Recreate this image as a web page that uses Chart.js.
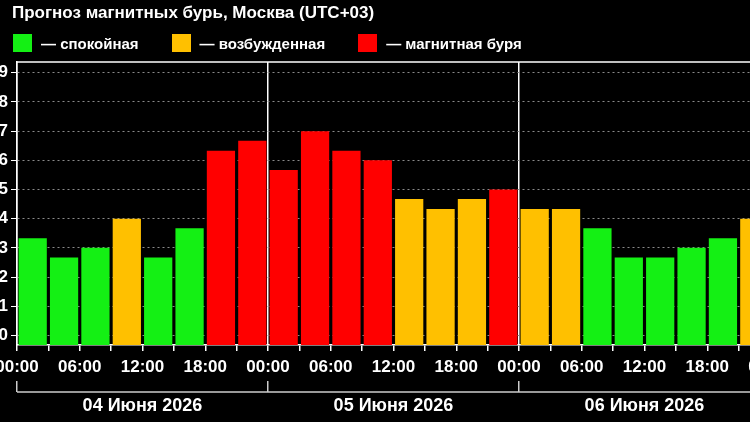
<!DOCTYPE html>
<html>
<head>
<meta charset="utf-8">
<script src="https://cdn.jsdelivr.net/npm/chart.js@4"></script>
<style>
  html, body { margin: 0; padding: 0; background: #000; overflow: hidden; }
  #wrap { position: relative; width: 770px; height: 422px; }
  #title { position: absolute; left: 12px; top: 3px; font: bold 17px "Liberation Sans", Arial, sans-serif; color: #fff; white-space: nowrap; }
  #legend { position: absolute; left: 13px; top: 34px; display: flex; font: bold 15px "Liberation Sans", Arial, sans-serif; color: #fff; }
  #legend .item { display: flex; align-items: center; margin-right: 33px; }
  #legend .box { width: 19px; height: 18px; margin-right: 9px; }
</style>
</head>
<body>
<div id="wrap">
  <canvas id="stormChart"></canvas>
  <div id="title">Прогноз магнитных бурь, Москва (UTC+03)</div>
  <div id="legend"></div>
</div>
<script>
// Kp forecast, 3-hour slots
var days = ["04 Июня 2026", "05 Июня 2026", "06 Июня 2026"];
var hours = ["00:00", "03:00", "06:00", "09:00", "12:00", "15:00", "18:00", "21:00"];
var kpValues = [
  3.33, 2.67, 3.0, 4.0, 2.67, 3.67, 6.33, 6.67,
  5.67, 7.0, 6.33, 6.0, 4.67, 4.33, 4.67, 5.0,
  4.33, 4.33, 3.67, 2.67, 2.67, 3.0, 3.33, 4.0
];
var levelNames = ["— спокойная", "— возбужденная", "— магнитная буря"];
var levelColors = ["#14f014", "#ffc000", "#ff0000"];
var yMin = -0.33, yMax = 9.37;

var slotLabels = [];
days.forEach(function (d) {
  hours.forEach(function (h) { slotLabels.push(d + " " + h); });
});

function levelOf(v) {
  if (v >= 5) return 2;
  if (v >= 4) return 1;
  return 0;
}

// legend
var legendEl = document.getElementById('legend');
levelNames.forEach(function (name, i) {
  var item = document.createElement('div');
  item.className = 'item';
  item.innerHTML = '<span class="box" style="background:' + levelColors[i] + '"></span><span>' + name + '</span>';
  legendEl.appendChild(item);
});

Chart.defaults.font.family = '"Liberation Sans", Arial, sans-serif';
Chart.defaults.color = '#fff';

var framePlugin = {
  id: 'frame',
  afterDraw: function (chart) {
    var ctx = chart.ctx, a = chart.chartArea;
    ctx.save();
    ctx.strokeStyle = '#fff';
    ctx.lineWidth = 1.5;
    ctx.beginPath();
    ctx.moveTo(a.left, a.top);
    ctx.lineTo(a.right, a.top);
    ctx.stroke();
    // bracket line under the day ticks
    var dx = chart.scales.dx;
    var y = dx.top + dx.options.grid.tickLength;
    ctx.strokeStyle = '#ccc';
    ctx.beginPath();
    ctx.moveTo(dx.left, y);
    ctx.lineTo(dx.right, y);
    ctx.stroke();
    ctx.restore();
  }
};

function noSidePadding(s, h) {
  s.height = h;
  s.paddingLeft = 0;
  s.paddingRight = 0;
}

var ctx = document.getElementById('stormChart').getContext('2d');
var stormChart = new Chart(ctx, {
  type: 'bar',
  data: {
    labels: slotLabels,
    datasets: [{
      data: kpValues,
      base: yMin,
      backgroundColor: kpValues.map(function (v) { return levelColors[levelOf(v)]; }),
      barPercentage: 0.9,
      categoryPercentage: 1.0
    }]
  },
  options: {
    responsive: true,
    maintainAspectRatio: false,
    animation: false,
    layout: { padding: { left: 0, right: 0, top: 62, bottom: 0 } },
    plugins: {
      legend: { display: false },
      tooltip: { enabled: false }
    },
    scales: {
      x: { type: 'category', display: false },
      hx: {
        type: 'linear',
        position: 'bottom',
        min: 0,
        max: 24,
        offset: false,
        weight: 1,
        afterFit: function (s) { noSidePadding(s, 36); },
        ticks: {
          stepSize: 1,
          autoSkip: false,
          maxRotation: 0,
          padding: 6,
          color: '#fff',
          font: { size: 17, weight: 'bold' },
          callback: function (v) { return v % 2 === 0 ? hours[v % 8] : ''; }
        },
        grid: {
          offset: false,
          color: function (c) { return c.tick && c.tick.value % 8 === 0 ? '#fff' : 'rgba(0,0,0,0)'; },
          lineWidth: 1.5,
          tickColor: '#fff',
          tickLength: 6
        },
        border: { color: '#fff', width: 1.5 }
      },
      dx: {
        type: 'category',
        labels: days,
        position: 'bottom',
        offset: true,
        weight: 2,
        afterFit: function (s) { noSidePadding(s, 41); },
        ticks: { color: '#fff', font: { size: 18, weight: 'bold' }, padding: 3, maxRotation: 0 },
        grid: { offset: true, drawOnChartArea: false, tickColor: '#ccc', tickLength: 11, lineWidth: 1.5 },
        border: { display: false }
      },
      y: {
        min: yMin,
        max: yMax,
        afterFit: function (s) { s.width = 17; },
        ticks: {
          stepSize: 1,
          includeBounds: false,
          padding: 3,
          color: '#fff',
          font: { size: 17, weight: 'bold' }
        },
        grid: { color: '#8a8a8a', lineWidth: 1, tickColor: '#fff', tickLength: 6 },
        border: { color: '#fff', width: 1.5, dash: [2, 3] }
      }
    }
  },
  plugins: [framePlugin]
});
</script>
</body>
</html>
